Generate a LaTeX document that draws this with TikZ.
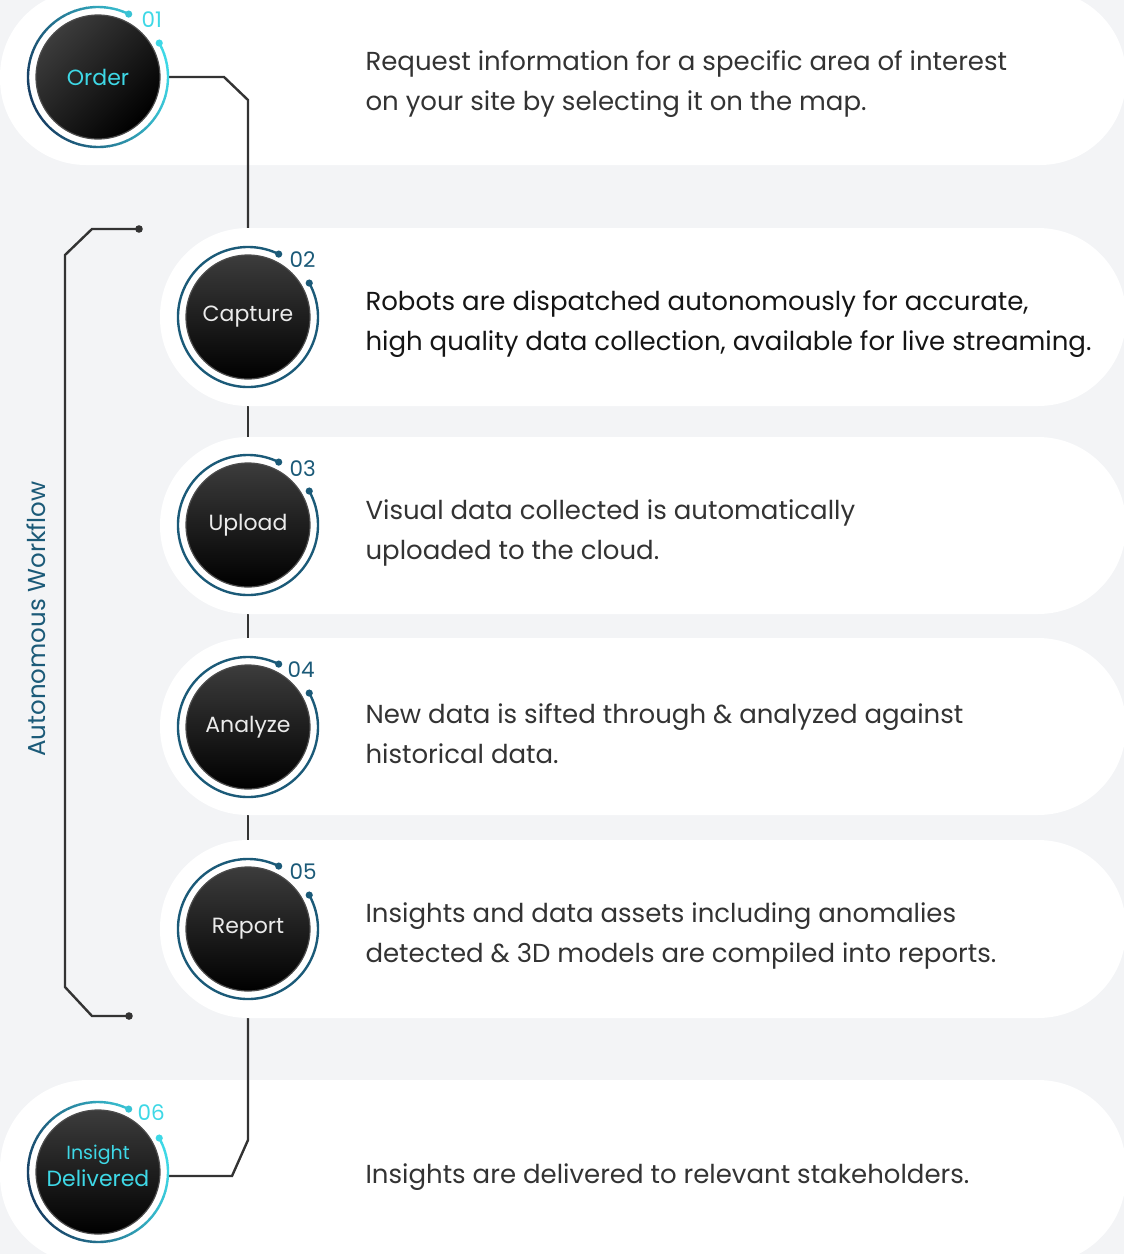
\documentclass[tikz,border=0pt]{standalone}
\usepackage{fontspec}
\setmainfont{Poppins}
\definecolor{bgc}{HTML}{F3F4F6}
\definecolor{ringteal}{HTML}{1B5A78}
\definecolor{ringdark}{HTML}{173F63}
\definecolor{ringcyan}{HTML}{3ED8E6}
\definecolor{txtc}{HTML}{333333}
\definecolor{txtdark}{HTML}{151515}
\definecolor{linec}{HTML}{333333}
\definecolor{diskgray}{HTML}{3C3C3C}
\tikzset{
  band/.style={fill=white},
  desc/.style={anchor=west, align=left, text=txtc, font=\fontsize{26}{40}\selectfont},
  holder/.style={circle, minimum size=140pt, inner sep=0pt},
  conn/.style={draw=linec, line width=2.4pt},
  numlab/.style={font=\fontsize{21.5}{22}\selectfont, anchor=west},
  clab/.style={font=\fontsize{22}{26}\selectfont, align=center},
}
\newcommand\disk[2]{% #1 center, #2 shading angle
  \shade[top color=diskgray, bottom color=black, shading angle=#2] (#1) circle (62);
  \draw[black!70, line width=1.2pt] (#1) circle (62);
}
\newcommand\ringsolid[1]{%
  \draw[ringteal, line width=2.4pt] ([shift={(64:70)}]#1) arc[start angle=64, end angle=389, radius=70];
  \fill[ringteal] ([shift={(64:70)}]#1) circle (3.6);
  \fill[ringteal] ([shift={(29:70)}]#1) circle (3.6);
}
\newcommand\ringgrad[1]{%
  \foreach \a in {64,69,...,384}{
    \pgfmathsetmacro\t{50+50*cos(\a+2.5-20)}
    \draw[ringcyan!\t!ringdark, line width=2.4pt] ([shift={(\a:70)}]#1) arc[start angle=\a, end angle=\a+5.4, radius=70];
  }
  \pgfmathsetmacro\t{50+50*cos(44)}
  \fill[ringcyan!\t!ringdark] ([shift={(64:70)}]#1) circle (3.6);
  \fill[ringcyan] ([shift={(29:70)}]#1) circle (3.6);
}
\begin{document}
\begin{tikzpicture}[x=1pt, y=1pt]
\fill[bgc] (0,0) rectangle (1124,-1254);
\useasboundingbox (0,0) rectangle (1124,-1254);
% bands 1 and 6
\fill[band, rounded corners=86] (0,10) rectangle (1126,-165);
\fill[band, rounded corners=88] (0,-1080) rectangle (1126,-1264);
% node holders
\node[holder] (order) at (98,-77) {};
\node[holder] (capture) at (248,-317) {};
\node[holder] (upload) at (248,-525) {};
\node[holder] (analyze) at (248,-727) {};
\node[holder] (report) at (248,-929) {};
\node[holder] (insight) at (98,-1172) {};
\coordinate (c1) at (224,-77);
\coordinate (c2) at (248,-100);
\coordinate (c3) at (248,-1140);
\coordinate (c4) at (232,-1176);
\coordinate (c5) at (168,-1176);
% connectors
\draw[conn] (order.east) -- (c1) -- (c2) -- (capture.north);
\draw[conn] (capture.south) -- (upload.north);
\draw[conn] (upload.south) -- (analyze.north);
\draw[conn] (analyze.south) -- (report.north);
\draw[conn] (report.south) -- (c3) -- (c4) -- (c5);
% bands 2-5
\fill[band, rounded corners=88] (160,-228) rectangle (1126,-406);
\fill[band, rounded corners=88] (160,-437) rectangle (1126,-614);
\fill[band, rounded corners=88] (160,-638) rectangle (1126,-815);
\fill[band, rounded corners=88] (160,-840) rectangle (1126,-1018);
% bracket
\coordinate (b1) at (139,-229);
\coordinate (b2) at (92,-229);
\coordinate (b3) at (65,-255);
\coordinate (b4) at (65,-987);
\coordinate (b5) at (92,-1016);
\coordinate (b6) at (129,-1016);
\draw[conn] (b1) -- (b2) -- (b3) -- (b4) -- (b5) -- (b6);
\fill[linec] (b1) circle (3.8);
\fill[linec] (b6) circle (3.8);
\node[rotate=90, text=ringteal, font=\fontsize{24.5}{26}\selectfont] (wf) at (36,-619) {Autonomous Workflow};
% circles
\disk{order}{45}
\ringgrad{order}
\disk{capture}{0}
\ringsolid{capture}
\disk{upload}{0}
\ringsolid{upload}
\disk{analyze}{0}
\ringsolid{analyze}
\disk{report}{0}
\ringsolid{report}
\disk{insight}{0}
\ringgrad{insight}
% circle labels
\node[clab, text=ringcyan] (lorder) at (order) {Order};
\node[clab, text=white!92!black] (lcapture) at (capture) {Capture};
\node[clab, text=white!92!black] (lupload) at (upload) {Upload};
\node[clab, text=white!92!black] (lanalyze) at (analyze) {Analyze};
\node[clab, text=white!92!black] (lreport) at (report) {Report};
\node[clab, text=ringcyan] (linsight) at (98,-1166) {{\fontsize{19}{22}\selectfont Insight}\\[1pt]Delivered};
% numbers
\node[numlab, text=ringcyan] (n1) at (138,-20) {01};
\node[numlab, text=ringteal] (n2) at (286,-260) {02};
\node[numlab, text=ringteal] (n3) at (286,-469) {03};
\node[numlab, text=ringteal] (n4) at (284,-670) {04};
\node[numlab, text=ringteal] (n5) at (286,-872) {05};
\node[numlab, text=ringcyan] (n6) at (134,-1113) {06};
% descriptions
\node[desc] (d1) at (362,-84) {Request information for a specific area of interest\\on your site by selecting it on the map.};
\node[desc, text=txtdark] (d2) at (362,-324) {Robots are dispatched autonomously for accurate,\\high quality data collection, available for live streaming.};
\node[desc] (d3) at (362,-533) {Visual data collected is automatically\\uploaded to the cloud.};
\node[desc] (d4) at (362,-734) {New data is sifted through \& analyzed against\\historical data.};
\node[desc] (d5) at (362,-936) {Insights and data assets including anomalies\\detected \& 3D models are compiled into reports.};
\node[desc] (d6) at (362,-1177) {Insights are delivered to relevant stakeholders.};
\end{tikzpicture}
\end{document}
